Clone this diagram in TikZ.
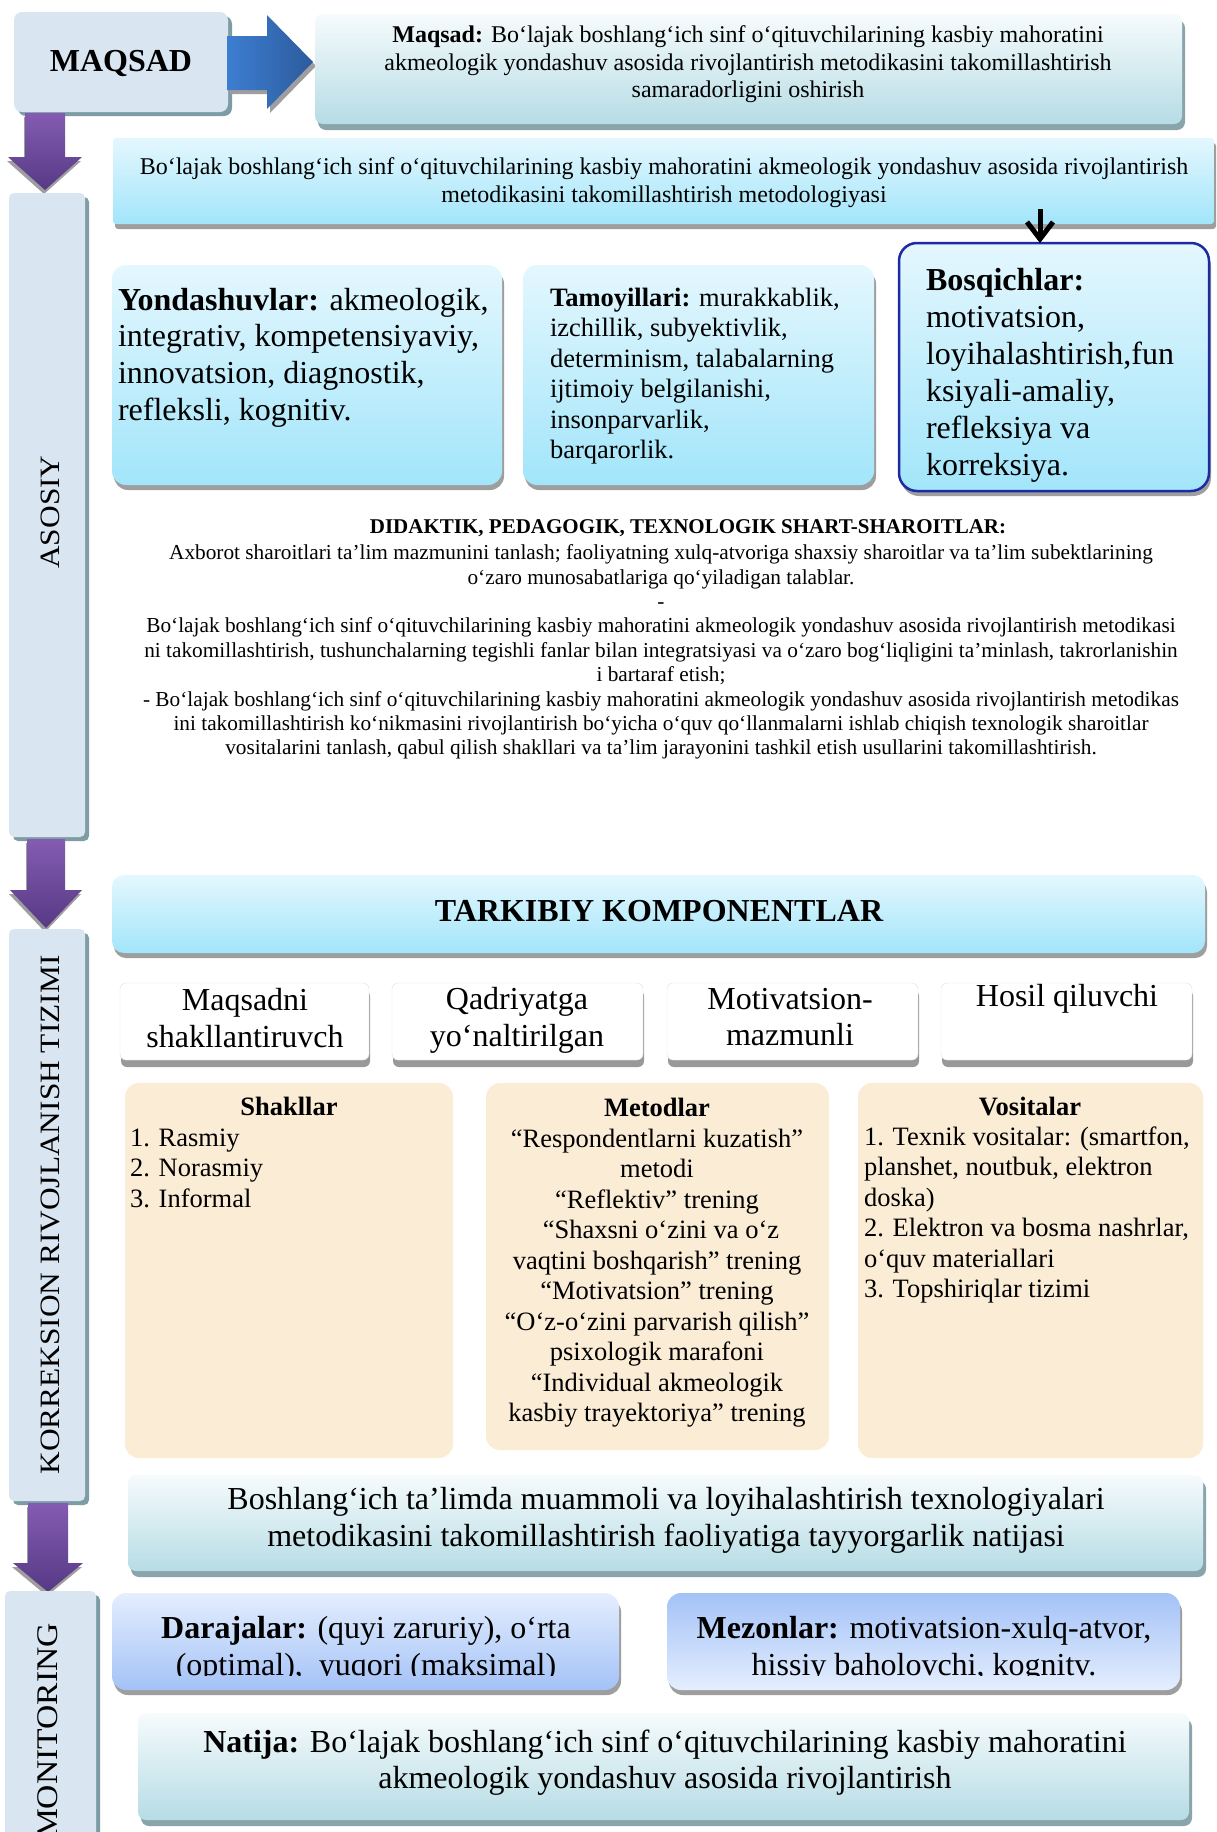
\documentclass[tikz,border=0pt]{standalone}
\usepackage{fontspec}
\setmainfont{Liberation Serif}
\usepackage{graphicx}
\usetikzlibrary{shadows,arrows.meta,calc}
\definecolor{texblue}{HTML}{D9E6F2}
\definecolor{texshadow}{HTML}{7E9CA5}
\definecolor{tealT}{HTML}{F6FBFC}
\definecolor{tealB}{HTML}{B6DCE5}
\definecolor{tealshadow}{HTML}{8AA4AB}
\definecolor{cyanT}{HTML}{E4F7FE}
\definecolor{cyanB}{HTML}{A2E5FA}
\definecolor{boxshadow}{HTML}{9E9E9E}
\definecolor{bordblue}{HTML}{1E2AA2}
\definecolor{beige}{HTML}{FBECD5}
\definecolor{periL}{HTML}{E4EEFE}
\definecolor{periD}{HTML}{A4C2F7}
\definecolor{purpT}{HTML}{845CB2}
\definecolor{purpB}{HTML}{563985}
\definecolor{blueL}{HTML}{3D7ED1}
\definecolor{blueR}{HTML}{2C5B9C}
\newcommand\fsz[2]{\fontsize{#1}{#2}\selectfont}
\begin{document}
\begin{tikzpicture}[x=1pt,y=-1pt,
  base/.style={inner sep=0pt, outer sep=0pt, anchor=north west},
  dims/.style 2 args={minimum width=#1pt, minimum height=#2pt},
  shd/.style n args={3}{drop shadow={shadow xshift=#1pt, shadow yshift=-#2pt, fill=#3, opacity=1}},
  texbar/.style={base, rounded corners=5pt, fill=texblue, shd={4}{4}{texshadow}},
  tealbox/.style={base, rounded corners=8pt, top color=tealT, bottom color=tealB, shd={3}{6}{tealshadow}},
  cyanbox/.style={base, rounded corners=14pt, top color=cyanT, bottom color=cyanB, shd={2}{5}{boxshadow}},
  peribox/.style={base, rounded corners=14pt, shd={2}{5}{boxshadow}},
  whitebox/.style={base, rounded corners=6pt, fill=white, draw=black!12, shd={1}{7}{black!40}},
  beigebox/.style={base, rounded corners=14pt, fill=beige},
  txt/.style={inner sep=0pt, outer sep=0pt, align=center},
  ltxt/.style={inner sep=0pt, outer sep=0pt, align=left, anchor=west},
  sidelbl/.style={inner sep=0pt, rotate=90, font=\fsz{28}{32}},
  purparrow/.style={top color=purpT, bottom color=purpB},
  arrshadow/.style={fill=boxshadow},
  blackline/.style={line width=5pt, line join=miter, miter limit=10},
]
\useasboundingbox (0,0) rectangle (1216,1832);
\clip (0,0) rectangle (1216,1832);
\fill[white] (0,0) rectangle (1216,1832);

% ---------- MAQSAD row
\node[texbar, rounded corners=8pt, dims={214}{100}] (maqsadbox) at (14,12) {};
\node[txt, font=\bfseries\fsz{32}{36}] (maqsadlbl) at (121,63) {MAQSAD};
\fill[arrshadow, shift={(3,4)}] (227,36) -- (267,36) -- (267,15) -- (313,62) -- (267,109) -- (267,90) -- (227,90) -- cycle;
\shade[left color=blueL, right color=blueR] (227,36) -- (267,36) -- (267,15) -- (313,62) -- (267,109) -- (267,90) -- (227,90) -- cycle;
\node[tealbox, dims={867}{110}] (goalbox) at (315,14) {};
\node[txt, font=\fsz{24}{27.5}] (goaltxt) at (748,64.5) {\textbf{Maqsad:} Bo‘lajak boshlang‘ich sinf o‘qituvchilarining kasbiy mahoratini\\akmeologik yondashuv asosida rivojlantirish metodikasini takomillashtirish\\samaradorligini oshirish};

% ---------- purple arrow 1
\fill[arrshadow, shift={(-1,4)}] (25,113) -- (65,113) -- (65,157) -- (82,157) -- (45,190) -- (8,157) -- (25,157) -- cycle;
\shade[purparrow] (25,113) -- (65,113) -- (65,157) -- (82,157) -- (45,190) -- (8,157) -- (25,157) -- cycle;

% ---------- metodologiya
\node[cyanbox, rounded corners=3pt, dims={1101}{86}] (methbox) at (113,138) {};
\node[txt, font=\fsz{24}{28}] (methtxt) at (664,182.5) {Bo‘lajak boshlang‘ich sinf o‘qituvchilarining kasbiy mahoratini akmeologik yondashuv asosida rivojlantirish\\metodikasini takomillashtirish metodologiyasi};

% ---------- ASOSIY bar
\node[texbar, dims={76}{644}] (asosbar) at (9,193) {};
\node[sidelbl] (asoslbl) at (50,512) {\scalebox{1.12}[1]{ASOSIY}};

% ---------- three boxes
\node[cyanbox, dims={390}{220}] (apprbox) at (112,265) {};
\node[ltxt, font=\fsz{32}{36.6}] (apprtxt) at (118,357.5) {\textbf{Yondashuvlar:} akmeologik,\\integrativ, kompetensiyaviy,\\innovatsion, diagnostik,\\refleksli, kognitiv.};
\node[cyanbox, dims={351}{220}] (princbox) at (523,265) {};
\node[ltxt, font=\fsz{26.5}{30.5}] (princtxt) at (550,376) {\textbf{Tamoyillari:} murakkablik,\\izchillik, subyektivlik,\\determinism, talabalarning\\ijtimoiy belgilanishi,\\insonparvarlik,\\barqarorlik.};
\node[cyanbox, draw=bordblue, line width=2.5pt, rounded corners=18pt, dims={310}{248}] (bosq) at (899,243) {};
\node[ltxt, font=\fsz{32}{37}] (bosqtxt) at (926,375) {\textbf{Bosqichlar:}\\motivatsion,\\loyihalashtirish,fun\\ksiyali-amaliy,\\refleksiya va\\korreksiya.};
\coordinate (barr) at (1040,209);
\coordinate (btip) at ($(bosq.north -| barr)+(0,-4)$);
\draw[blackline] (barr) -- (btip);
\draw[blackline] ($(btip)+(-13,-17)$) -- (btip) -- ($(btip)+(13,-17)$);

% ---------- didaktik
\node[txt, font=\bfseries\fsz{21}{24.5}] (didtitle) at (688,528.5) {DIDAKTIK, PEDAGOGIK, TEXNOLOGIK SHART-SHAROITLAR:};
\node[txt, font=\fsz{21.3}{24.4}] (didtxt) at (661,652) {Axborot sharoitlari ta’lim mazmunini tanlash; faoliyatning xulq-atvoriga shaxsiy sharoitlar va ta’lim subektlarining\\o‘zaro munosabatlariga qo‘yiladigan talablar.\\-\\Bo‘lajak boshlang‘ich sinf o‘qituvchilarining kasbiy mahoratini akmeologik yondashuv asosida rivojlantirish metodikasi\\ni takomillashtirish, tushunchalarning tegishli fanlar bilan integratsiyasi va o‘zaro bog‘liqligini ta’minlash, takrorlanishin\\i bartaraf etish;\\- Bo‘lajak boshlang‘ich sinf o‘qituvchilarining kasbiy mahoratini akmeologik yondashuv asosida rivojlantirish metodikas\\ini takomillashtirish ko‘nikmasini rivojlantirish bo‘yicha o‘quv qo‘llanmalarni ishlab chiqish texnologik sharoitlar\\vositalarini tanlash, qabul qilish shakllari va ta’lim jarayonini tashkil etish usullarini takomillashtirish.};

% ---------- purple arrow 2
\fill[arrshadow, shift={(-1,4)}] (27,839) -- (65,839) -- (65,890) -- (82,890) -- (46,928) -- (10,890) -- (27,890) -- cycle;
\shade[purparrow] (27,839) -- (65,839) -- (65,890) -- (82,890) -- (46,928) -- (10,890) -- (27,890) -- cycle;

% ---------- KORREKSION bar
\node[texbar, dims={76}{572}] (korbar) at (9,929) {};
\node[sidelbl] (korlbl) at (50,1215) {\scalebox{1.12}[1]{KORREKSION RIVOJLANISH TIZIMI}};

% ---------- tarkibiy
\node[cyanbox, rounded corners=12pt, dims={1093}{78}] (compbox) at (112,875) {};
\node[txt, font=\bfseries\fsz{32}{36}] (comptxt) at (659,911) {TARKIBIY KOMPONENTLAR};

\node[whitebox, dims={249}{77}] (c1) at (120,983) {};
\node[whitebox, dims={251}{77}] (c2) at (392,983) {};
\node[whitebox, dims={251}{77}] (c3) at (667,983) {};
\node[whitebox, dims={251}{77}] (c4) at (941,983) {};
\node[txt, font=\fsz{32}{36.6}] (c1t) at (245,1018) {Maqsadni\\shakllantiruvch};
\node[txt, font=\fsz{32}{36.6}] (c2t) at (517,1020.5) {Qadriyatga\\yo‘naltirilgan};
\node[txt, font=\fsz{32}{36.6}] (c3t) at (790,1017) {Motivatsion-\\mazmunli};
\node[txt, font=\fsz{32}{36.6}] (c4t) at (1067,999) {Hosil qiluvchi};

% ---------- beige boxes
\node[beigebox, dims={328}{375}] (formbox) at (125,1083) {};
\node[beigebox, dims={343}{367}] (methdbox) at (486,1083) {};
\node[beigebox, dims={345}{375}] (toolbox) at (858,1083) {};
\node[txt, font=\bfseries\fsz{26.5}{30.5}] (formtitle) at (289,1106) {Shakllar};
\node[ltxt, font=\fsz{26.5}{30.5}] (formtxt) at (130,1168) {1. Rasmiy\\2. Norasmiy\\3. Informal};
\node[txt, font=\fsz{26.5}{30.5}] (methdtxt) at (657,1263) {\textbf{Metodlar}\\“Respondentlarni kuzatish”\\metodi\\“Reflektiv” trening\\\hspace*{8pt}“Shaxsni o‘zini va o‘z\\vaqtini boshqarish” trening\\“Motivatsion” trening\\“O‘z-o‘zini parvarish qilish”\\psixologik marafoni\\“Individual akmeologik\\kasbiy trayektoriya” trening};
\node[txt, font=\bfseries\fsz{26.5}{30.5}] (tooltitle) at (1030,1106) {Vositalar};
\node[ltxt, font=\fsz{26.5}{30.5}] (tooltxt) at (864,1215) {1. Texnik vositalar: (smartfon,\\planshet, noutbuk, elektron\\doska)\\2. Elektron va bosma nashrlar,\\o‘quv materiallari\\3. Topshiriqlar tizimi};

% ---------- result
\node[tealbox, dims={1075}{96}] (readybox) at (128,1475) {};
\node[txt, font=\fsz{32}{36.6}] (readytxt) at (666,1520.5) {Boshlang‘ich ta’limda muammoli va loyihalashtirish texnologiyalari\\metodikasini takomillashtirish faoliyatiga tayyorgarlik natijasi};

% ---------- purple arrow 3
\fill[arrshadow, shift={(-1,4)}] (28,1503) -- (68,1503) -- (68,1563) -- (83,1563) -- (48,1592) -- (13,1563) -- (28,1563) -- cycle;
\shade[purparrow] (28,1503) -- (68,1503) -- (68,1563) -- (83,1563) -- (48,1592) -- (13,1563) -- (28,1563) -- cycle;

% ---------- MONITORING
\node[texbar, dims={91}{290}] (monbar) at (5,1591) {};
\node[sidelbl, font=\fsz{30}{34}] (monlbl) at (48,1731) {\scalebox{1.12}[1]{MONITORING}};

\node[peribox, top color=periL, bottom color=periD, dims={507}{97}] (levbox) at (112,1593) {};
\node[peribox, top color=periD, bottom color=periL, dims={513}{97}] (critbox) at (667,1593) {};
\begin{scope}
\clip (100,1580) rectangle (1200,1675);
\node[txt, font=\fsz{32}{36.6}] (levtxt) at (366,1649.5) {\textbf{Darajalar:} (quyi zaruriy), o‘rta\\(optimal),\ \ yuqori (maksimal)};
\node[txt, font=\fsz{32}{36.6}] (crittxt) at (924,1649.5) {\textbf{Mezonlar:} motivatsion-xulq-atvor,\\hissiy baholovchi, kognitv.};
\end{scope}

\node[tealbox, dims={1051}{107}] (resbox) at (138,1713) {};
\node[txt, font=\fsz{32}{36.6}] (restxt) at (665,1762.5) {\textbf{Natija:} Bo‘lajak boshlang‘ich sinf o‘qituvchilarining kasbiy mahoratini\\akmeologik yondashuv asosida rivojlantirish};
\end{tikzpicture}
\end{document}
